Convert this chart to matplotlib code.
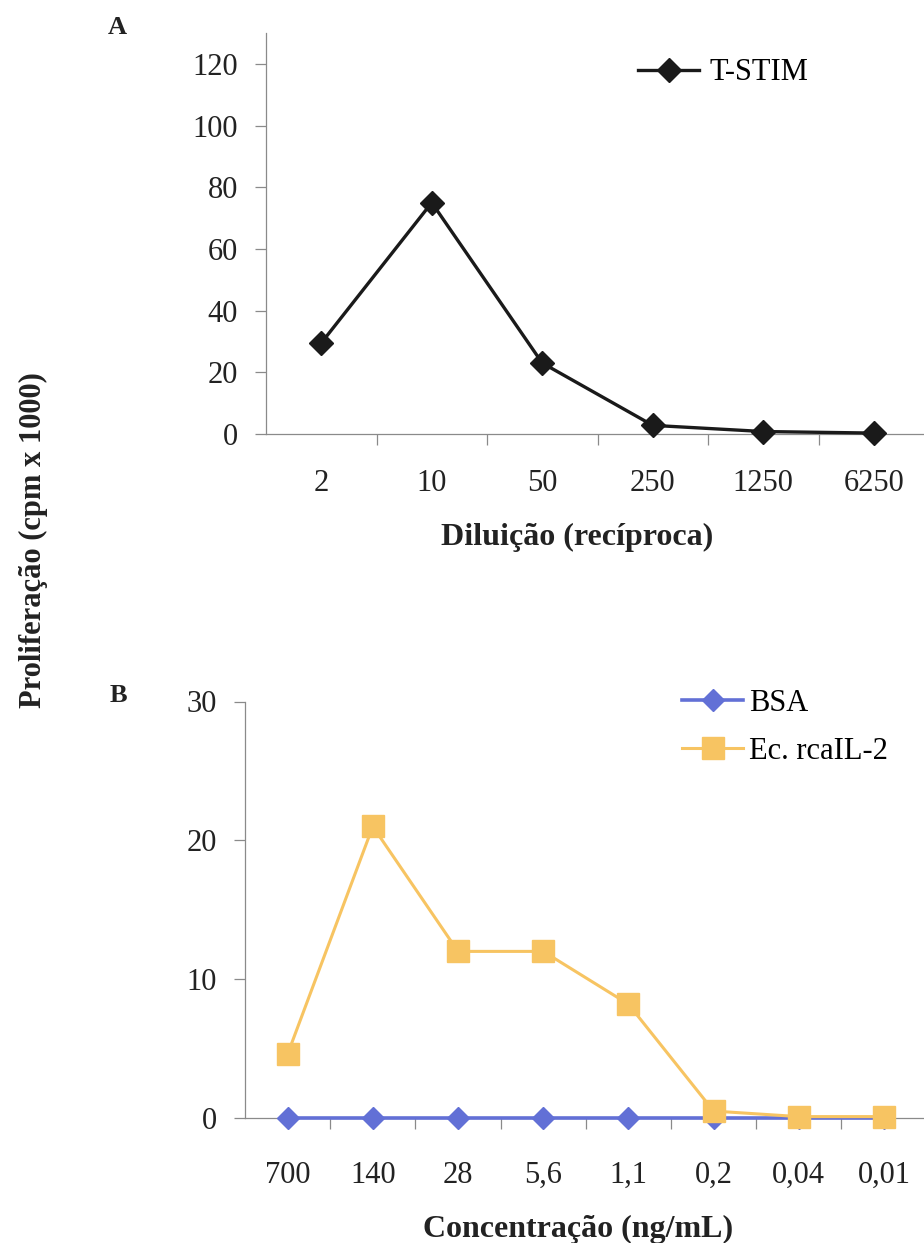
import matplotlib
matplotlib.use("Agg")
import matplotlib.pyplot as plt
from matplotlib.ticker import FixedLocator, NullFormatter

plt.rcParams['font.family'] = ['Liberation Serif', 'DejaVu Serif']

# ---- data ----
dil_labels = ["2", "10", "50", "250", "1250", "6250"]
tstim = [29.5, 75, 23, 2.8, 0.8, 0.3]

conc_labels = ["700", "140", "28", "5,6", "1,1", "0,2", "0,04", "0,01"]
bsa = [0, 0, 0, 0, 0, 0, 0, 0]
ec_rcail2 = [4.6, 21.0, 12.0, 12.0, 8.2, 0.5, 0.1, 0.1]

W, H = 924, 1243
fig = plt.figure(figsize=(W / 100, H / 100), dpi=100)

def px_axes(l, t, r, b):
    return fig.add_axes([l / W, 1 - b / H, (r - l) / W, (b - t) / H])

FS = 22
LFS = 23
AX_COLOR = "#8a8a8a"
TXT = "#222222"

def style(ax, n, yticks, ylim, xpad):
    x = list(range(n))
    ax.set_xlim(-0.5, n - 0.5)
    ax.set_ylim(*ylim)
    ax.set_yticks(yticks)
    ax.xaxis.set_major_locator(FixedLocator(x))
    ax.xaxis.set_minor_locator(FixedLocator([i + 0.5 for i in range(n)]))
    ax.xaxis.set_minor_formatter(NullFormatter())
    for s in ["top", "right"]:
        ax.spines[s].set_visible(False)
    for s in ["left", "bottom"]:
        ax.spines[s].set_color(AX_COLOR)
        ax.spines[s].set_linewidth(0.9)
    ax.tick_params(axis="y", direction="out", length=8, width=0.9, color=AX_COLOR,
                   labelsize=FS, pad=12, labelcolor=TXT)
    ax.tick_params(axis="x", which="major", length=0, labelsize=FS, pad=xpad,
                   labelcolor=TXT)
    ax.tick_params(axis="x", which="minor", direction="out", length=8, width=0.9,
                   color=AX_COLOR)

# ---- Panel A ----
axA = px_axes(266, 33, 929, 434)
xa = list(range(len(dil_labels)))
axA.plot(xa, tstim, color="#1a1a1a", lw=2.4, marker="D", ms=12,
         markeredgecolor="#1a1a1a", label="T-STIM", clip_on=False, zorder=3)
style(axA, len(dil_labels), [0, 20, 40, 60, 80, 100, 120], (0, 130), 25)
axA.set_xticklabels(dil_labels)
axA.set_xlabel("Diluição (recíproca)", fontsize=LFS, fontweight="bold", color=TXT)
axA.xaxis.set_label_coords((577 - 266) / 663, (434 - 537) / 401)
axA.xaxis.label.set_va("center")
axA.legend(loc="center left", bbox_to_anchor=(638 / W, 1 - 73 / H),
           bbox_transform=fig.transFigure, frameon=False, fontsize=FS,
           handlelength=2.0, handletextpad=0.35, borderpad=0, borderaxespad=0)

# ---- Panel B ----
axB = px_axes(245, 701.5, 926.6, 1118)
xb = list(range(len(conc_labels)))
axB.plot(xb, bsa, color="#6270d6", lw=2.6, marker="D", ms=11,
         markeredgecolor="#6270d6", label="BSA", clip_on=False, zorder=3)
axB.plot(xb, ec_rcail2, color="#f7c462", lw=2.2, marker="s", ms=15.5,
         markeredgecolor="#f7c462", label="Ec. rcaIL-2", clip_on=False, zorder=4)
style(axB, len(conc_labels), [0, 10, 20, 30], (0, 30), 31)
axB.set_xticklabels(conc_labels)
axB.set_xlabel("Concentração (ng/mL)", fontsize=LFS, fontweight="bold", color=TXT)
axB.xaxis.set_label_coords((578 - 245) / 681.6, (1118 - 1229) / 416.5)
axB.xaxis.label.set_va("center")
axB.legend(loc="upper left", bbox_to_anchor=(682 / W, 1 - 689 / H),
           bbox_transform=fig.transFigure, frameon=False, fontsize=FS,
           handlelength=2.0, handletextpad=0.2, borderpad=0, borderaxespad=0,
           labelspacing=0.62)

# ---- shared text ----
fig.text(33 / W, 1 - 540 / H, "Proliferação (cpm x 1000)", rotation=90,
         ha="center", va="center", fontsize=FS, fontweight="bold", color=TXT)
fig.text(117 / W, 1 - 27 / H, "A", ha="center", va="center", fontsize=19,
         fontweight="bold", color=TXT)
fig.text(118 / W, 1 - 695 / H, "B", ha="center", va="center", fontsize=19,
         fontweight="bold", color=TXT)

fig.savefig("out.png", dpi=100, facecolor="white")
